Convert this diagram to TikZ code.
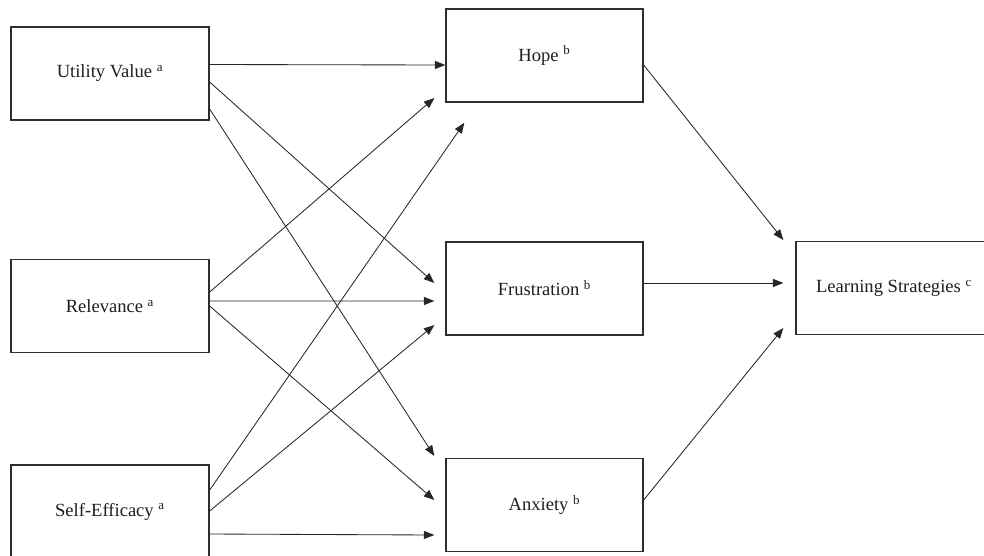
\documentclass[tikz,border=0pt]{standalone}
\usepackage{fontspec}
\setmainfont{Liberation Serif}
\usepackage{tikz}
\usetikzlibrary{arrows.meta,calc}

\begin{document}
\begin{tikzpicture}[
    x=0.025cm, y=-0.025cm,
    font=\fontsize{13.2}{15}\selectfont,
    var/.style={draw=black!82, line width=0.9pt, fill=white, inner sep=0pt,
                minimum width=4.95cm, minimum height=2.33cm, text=black!88},
    emo/.style={var, minimum width=4.925cm},
    outcome/.style={var, minimum width=4.9cm},
    arr/.style={-{Triangle[length=7.5pt,width=5.8pt]}, line width=0.6pt, draw=black!85}
]
\clip (0,0) rectangle (984,555);

% Appraisals (left column).
\node[var] (uv) at (110,73.5) {Utility Value \textsuperscript{a}};
\node[var] (rel) at (110,306) {Relevance \textsuperscript{a}};
\node[var] (se) at (110,511.5) {Self-Efficacy \textsuperscript{a}};

% Emotions (middle column).
\node[emo] (hope) at (544.5,55.5) {Hope \textsuperscript{b}};
\node[emo] (fru) at (544.5,288.5) {Frustration \textsuperscript{b}};
\node[emo] (anx) at (544.5,505) {Anxiety \textsuperscript{b}};

% Outcome.
\node[outcome] (ls) at (894,288) {Learning Strategies \textsuperscript{c}};

% Paths from utility value.
\draw[arr] ($(uv.east)+(0,-9)$) -- ($(hope.west)+(0,9.5)$);
\draw[arr] ($(uv.east)+(0,8.5)$) -- ($(fru.west)+(-11,-5.5)$);
\draw[arr] ($(uv.east)+(0,35.5)$) -- ($(anx.west)+(-11,-49)$);

% Paths from relevance.
\draw[arr] ($(rel.east)+(0,-14)$) -- ($(hope.west)+(-11,42.5)$);
\draw[arr] ($(rel.east)+(0,-5)$) -- ($(fru.west)+(-11,12.5)$);
\draw[arr] ($(rel.east)+(0,0)$) -- ($(anx.west)+(-11,-5)$);

% Paths from self-efficacy.
\draw[arr] ($(se.east)+(0,-21.5)$) -- ($(hope.south west)+(19,20)$);
\draw[arr] ($(se.east)+(0,-0.5)$) -- ($(fru.west)+(-11,36.5)$);
\draw[arr] ($(se.east)+(0,22.5)$) -- ($(anx.west)+(-11,30)$);

% Paths to learning strategies.
\draw[arr] ($(hope.east)+(0,9.5)$) -- ($(ls.west)+(-12,-48)$);
\draw[arr] ($(fru.east)+(0,-5.5)$) -- ($(ls.west)+(-12,-5)$);
\draw[arr] ($(anx.east)+(0,-5)$) -- ($(ls.west)+(-12,40)$);

\end{tikzpicture}
\end{document}
